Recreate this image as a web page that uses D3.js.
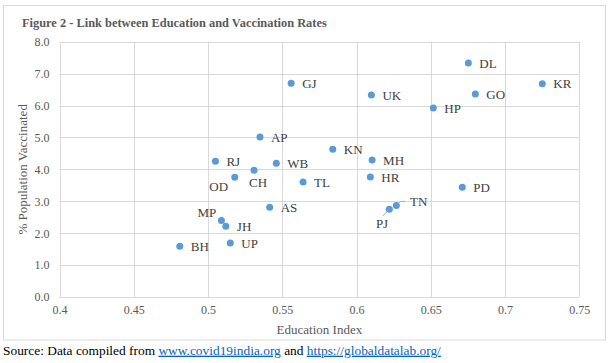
<!DOCTYPE html>
<html>
<head>
<meta charset="utf-8">
<script src="https://cdn.jsdelivr.net/npm/d3@7"></script>
<style>
  body { margin: 0; background: #fff; }
  svg { display: block; }
</style>
</head>
<body>
<div id="chart"></div>
<script>
// data
var states   = ["GJ", "AP", "RJ", "WB", "CH", "OD", "TL", "AS", "MP", "JH", "UP", "BH",
                "KN", "MH", "HR", "UK", "HP", "DL", "GO", "KR", "PD", "PJ", "TN"];
var eduIndex = [0.556, 0.535, 0.505, 0.546, 0.531, 0.518, 0.564, 0.5415, 0.509, 0.512, 0.515, 0.481,
                0.584, 0.6105, 0.6093, 0.610, 0.6517, 0.6753, 0.680, 0.7251, 0.6712, 0.6221, 0.6268];
var vaccPct  = [6.70, 5.01, 4.25, 4.19, 3.97, 3.75, 3.60, 2.81, 2.40, 2.22, 1.69, 1.59,
                4.63, 4.29, 3.76, 6.33, 5.92, 7.33, 6.36, 6.68, 3.44, 2.75, 2.87];
var xTicks = [0.4, 0.45, 0.5, 0.55, 0.6, 0.65, 0.7, 0.75];
var yTicks = [0, 1, 2, 3, 4, 5, 6, 7, 8];

// labels that were moved off the default "right" spot
var labelOffsets = {
  OD: [-16, 9.4, "middle"],
  CH: [4, 12.4, "middle"],
  MP: [-14.5, -8, "middle"],
  PJ: [-7.3, 14.7, "middle"],
  TN: [13.7, -4.3, "start"]
};

var svgWidth = 611, svgHeight = 363;
var svg = d3.select("#chart").append("svg")
  .attr("width", svgWidth)
  .attr("height", svgHeight);

var serif = "'Liberation Serif', 'Times New Roman', serif";

// chart frame
svg.append("rect")
  .attr("x", 3.5).attr("y", 5.5)
  .attr("width", 602).attr("height", 334.5)
  .attr("fill", "#fff")
  .attr("stroke", "#d9d9d9");

svg.append("text")
  .attr("x", 22).attr("y", 27)
  .attr("font-family", serif)
  .attr("font-weight", "bold")
  .attr("font-size", "12.4px")
  .attr("fill", "#595959")
  .text("Figure 2 - Link between Education and Vaccination Rates");

var xScale = d3.scaleLinear().domain([0.4, 0.75]).range([59.5, 579.3]);
var yScale = d3.scaleLinear().domain([0, 8]).range([297, 41.7]);

// grid
svg.append("g").selectAll("line.v")
  .data(xTicks).enter().append("line")
  .attr("x1", d => Math.round(xScale(d)) + 0.5)
  .attr("x2", d => Math.round(xScale(d)) + 0.5)
  .attr("y1", yScale(8)).attr("y2", yScale(0))
  .attr("stroke", "#d9d9d9");

svg.append("g").selectAll("line.h")
  .data(yTicks).enter().append("line")
  .attr("x1", xScale(0.4)).attr("x2", xScale(0.75))
  .attr("y1", d => Math.round(yScale(d)) + 0.5)
  .attr("y2", d => Math.round(yScale(d)) + 0.5)
  .attr("stroke", "#d9d9d9");

// axes, drawn without domain/ticks so only labels show
var xAxis = d3.axisBottom(xScale).tickValues(xTicks).tickSize(0).tickPadding(8)
  .tickFormat(d => String(+d.toFixed(2)));
var yAxis = d3.axisLeft(yScale).tickValues(yTicks).tickSize(0).tickPadding(10)
  .tickFormat(d3.format(".1f"));

var gx = svg.append("g").attr("transform", `translate(0, ${yScale(0)})`).call(xAxis);
var gy = svg.append("g").attr("transform", `translate(${xScale(0.4)}, 0)`).call(yAxis);
[gx, gy].forEach(g => {
  g.attr("font-family", null);
  g.select(".domain").remove();
  g.selectAll("text")
    .attr("font-family", serif)
    .attr("font-size", "12px")
    .attr("fill", "#595959");
});

svg.append("text")
  .attr("x", (xScale(0.4) + xScale(0.75)) / 2).attr("y", 329)
  .attr("dy", "0.35em")
  .attr("text-anchor", "middle")
  .attr("font-family", serif).attr("font-size", "13px")
  .attr("fill", "#595959")
  .text("Education Index");

svg.append("text")
  .attr("transform", `translate(22, ${(yScale(0) + yScale(8)) / 2}) rotate(-90)`)
  .attr("dy", "0.35em")
  .attr("text-anchor", "middle")
  .attr("font-family", serif).attr("font-size", "13px")
  .attr("fill", "#595959")
  .text("% Population Vaccinated");

// leader lines for PJ and TN
var iPJ = states.indexOf("PJ"), iTN = states.indexOf("TN");
var px = xScale(eduIndex[iPJ]), py = yScale(vaccPct[iPJ]);
svg.append("line")
  .attr("x1", px - 6.5).attr("y1", py + 6.7)
  .attr("x2", px - 2).attr("y2", py + 2)
  .attr("stroke", "#a6a6a6");
var tx = xScale(eduIndex[iTN]), ty = yScale(vaccPct[iTN]);
svg.append("polyline")
  .attr("points", `${tx + 2},${ty - 2} ${tx + 4},${ty - 4} ${tx + 9},${ty - 4}`)
  .attr("fill", "none")
  .attr("stroke", "#a6a6a6");

// points
svg.append("g").selectAll("circle")
  .data(states).enter().append("circle")
  .attr("cx", (d, i) => xScale(eduIndex[i]))
  .attr("cy", (d, i) => yScale(vaccPct[i]))
  .attr("r", 3.5)
  .attr("fill", "#5b9bd5");

svg.append("g").selectAll("text")
  .data(states).enter().append("text")
  .attr("x", (d, i) => xScale(eduIndex[i]) + (labelOffsets[d] ? labelOffsets[d][0] : 11))
  .attr("y", (d, i) => yScale(vaccPct[i]) + (labelOffsets[d] ? labelOffsets[d][1] : 0))
  .attr("dy", "0.35em")
  .attr("text-anchor", d => labelOffsets[d] ? labelOffsets[d][2] : "start")
  .attr("font-family", serif).attr("font-size", "13px")
  .attr("fill", "#404040")
  .text(d => d);

// source line below the chart
var src = svg.append("text")
  .attr("x", 3).attr("y", 350)
  .attr("dy", "0.35em")
  .attr("font-family", serif).attr("font-size", "13.4px")
  .attr("fill", "#000");
src.append("tspan").text("Source: Data compiled from ");
src.append("tspan").attr("fill", "#0563c1").attr("text-decoration", "underline").text("www.covid19india.org");
src.append("tspan").text(" and ");
src.append("tspan").attr("fill", "#0563c1").attr("text-decoration", "underline").text("https://globaldatalab.org/");
</script>
</body>
</html>
